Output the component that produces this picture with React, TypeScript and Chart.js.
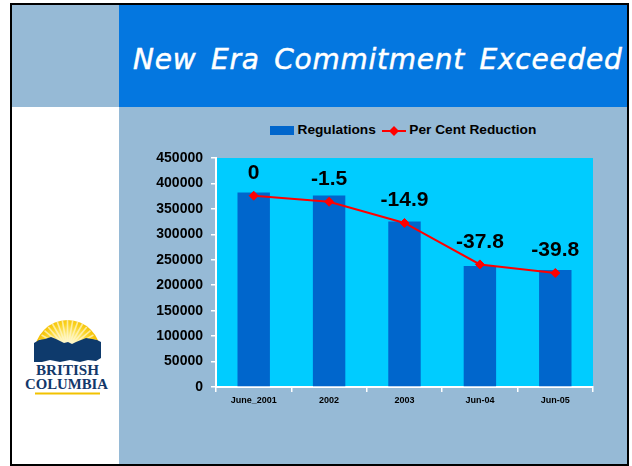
import React, { useEffect, useRef } from "react";
import { Chart, registerables } from "chart.js";

Chart.register(...registerables);

// ---- data ----
const categories = ["June_2001", "2002", "2003", "Jun-04", "Jun-05"];
const regulations = [382000, 376400, 325200, 237700, 230000];
// position of the "Per Cent Reduction" markers, read on the same scale as the bars
const reductionPoints = [375900, 364100, 322300, 240900, 224000];
const reductionLabels = ["0", "-1.5", "-14.9", "-37.8", "-39.8"];
const yTickValues = [0, 50000, 100000, 150000, 200000, 250000, 300000, 350000, 400000, 450000];

// ---- style ----
const FONT = '"Liberation Sans", Arial, Helvetica, sans-serif';
const PALE = "#96BAD6";
const TITLE_BLUE = "#0477E0";
const PLOT_BG = "#00CCFF";
const BAR = "#0066CC";
const LINE = "#FF0000";

const plotBgPlugin = {
  id: "plotBg",
  beforeDraw(chart: any) {
    const { ctx, chartArea } = chart;
    if (!chartArea) return;
    ctx.save();
    ctx.fillStyle = PLOT_BG;
    ctx.fillRect(chartArea.left, chartArea.top, chartArea.right - chartArea.left, chartArea.bottom - chartArea.top);
    ctx.restore();
  },
};

const pctLabelPlugin = {
  id: "pctLabels",
  afterDatasetsDraw(chart: any) {
    const meta = chart.getDatasetMeta(1);
    const ctx = chart.ctx;
    ctx.save();
    ctx.font = `bold 21px ${FONT}`;
    ctx.fillStyle = "#000000";
    ctx.textAlign = "center";
    ctx.textBaseline = "alphabetic";
    meta.data.forEach((pt: any, i: number) => {
      ctx.fillText(reductionLabels[i], pt.x, pt.y - 16.7);
    });
    ctx.restore();
  },
};

function ChartCanvas() {
  const ref = useRef<HTMLCanvasElement | null>(null);
  useEffect(() => {
    if (!ref.current) return;
    const chart = new Chart(ref.current, {
      type: "bar",
      data: {
        labels: categories,
        datasets: [
          {
            type: "bar",
            label: "Regulations",
            data: regulations,
            backgroundColor: BAR,
            borderWidth: 0,
            categoryPercentage: 1,
            barPercentage: 0.43,
            yAxisID: "y",
            order: 2,
          },
          {
            type: "line",
            label: "Per Cent Reduction",
            data: reductionPoints,
            borderColor: LINE,
            backgroundColor: LINE,
            borderWidth: 2,
            pointStyle: "rectRot",
            pointRadius: 4.5,
            pointBorderWidth: 1,
            pointBackgroundColor: LINE,
            pointBorderColor: LINE,
            tension: 0,
            fill: false,
            yAxisID: "y2",
            order: 1,
          },
        ],
      },
      options: {
        animation: false,
        responsive: false,
        devicePixelRatio: 1,
        layout: { padding: { left: 0, right: 34, top: 51, bottom: 47 } },
        plugins: {
          legend: { display: false },
          tooltip: { enabled: false },
          title: { display: false },
        },
        scales: {
          x: {
            offset: true,
            grid: {
              display: true,
              offset: true,
              drawOnChartArea: false,
              drawTicks: true,
              tickLength: 5,
              color: "#FFFFFF",
              lineWidth: 1.5,
            },
            border: { display: true, color: "#FFFFFF", width: 2 },
            ticks: {
              color: "#000000",
              font: { family: FONT, size: 9, weight: "bold" },
              padding: 3,
              maxRotation: 0,
              autoSkip: false,
            },
            afterFit: (s: any) => {
              s.height = 30;
            },
          },
          y: {
            min: 0,
            max: 450000,
            afterBuildTicks: (s: any) => {
              s.ticks = yTickValues.map((v) => ({ value: v }));
            },
            grid: {
              drawOnChartArea: false,
              drawTicks: true,
              tickLength: 5,
              color: "#FFFFFF",
              lineWidth: 1.5,
            },
            border: { display: true, color: "#FFFFFF", width: 2 },
            ticks: {
              color: "#000000",
              font: { family: FONT, size: 14, weight: "bold" },
              padding: 8,
              callback: (v: any) => String(v),
            },
            afterFit: (s: any) => {
              s.width = 97;
            },
          },
          y2: { display: false, min: 0, max: 450000 },
        },
      },
      plugins: [plotBgPlugin, pctLabelPlugin],
    } as any);
    return () => chart.destroy();
  }, []);
  return <canvas ref={ref} width={508} height={357} style={{ display: "block", width: 508, height: 357 }} />;
}

function Logo() {
  // coordinates relative to (12, 300)
  const rays = [];
  for (let a = 200; a <= 340; a += 10) {
    const r = (a * Math.PI) / 180;
    rays.push(
      <line
        key={a}
        x1={55.5 + Math.cos(r) * 8}
        y1={50 + Math.sin(r) * 8}
        x2={55.5 + Math.cos(r) * 30}
        y2={50 + Math.sin(r) * 30}
        stroke="#FFF6C8"
        strokeWidth={1.6}
        opacity={0.75}
      />
    );
  }
  return (
    <svg
      width={107}
      height={110}
      viewBox="0 0 107 110"
      style={{ position: "absolute", left: 12, top: 300 }}
    >
      <defs>
        <radialGradient id="sunG" cx="55.5" cy="48" r="32" gradientUnits="userSpaceOnUse">
          <stop offset="0" stopColor="#FFFFFF" />
          <stop offset="0.35" stopColor="#FFF2A0" />
          <stop offset="0.75" stopColor="#FAD21E" />
          <stop offset="1" stopColor="#F4BC00" />
        </radialGradient>
        <clipPath id="sunClip">
          <rect x="0" y="0" width="107" height="45" />
        </clipPath>
      </defs>
      <g clipPath="url(#sunClip)">
        <circle cx="55.5" cy="53" r="33" fill="url(#sunG)" />
        {rays}
      </g>
      <path
        d="M22,62 L22,43 L27,40 L33,39 L39,37 L44,39 L48,41 L52,43 L56,42 L60,44 L64,42 L69,40 L74,38 L80,39 L85,40 L89,42 L89,58 L84,61 L76,60 L68,62 L58,60 L48,62 L38,60 L30,62 Z"
        fill="#0E3A6C"
      />
      <text
        x="55.5"
        y="75"
        textAnchor="middle"
        textLength="63"
        lengthAdjust="spacingAndGlyphs"
        fontFamily='"Liberation Serif", "DejaVu Serif", serif'
        fontWeight="bold"
        fontSize="14"
        fill="#13386A"
      >
        BRITISH
      </text>
      <text
        x="54.5"
        y="89"
        textAnchor="middle"
        textLength="83"
        lengthAdjust="spacingAndGlyphs"
        fontFamily='"Liberation Serif", "DejaVu Serif", serif'
        fontWeight="bold"
        fontSize="15"
        fill="#13386A"
      >
        COLUMBIA
      </text>
      <line x1="23" y1="93.5" x2="88" y2="93.5" stroke="#F2C200" strokeWidth="2" />
    </svg>
  );
}

function Legend() {
  const textStyle: React.CSSProperties = {
    position: "absolute",
    top: 122,
    font: `bold 13.7px ${FONT}`,
    lineHeight: "16px",
    color: "#000",
    whiteSpace: "nowrap",
  };
  return (
    <>
      <div style={{ position: "absolute", left: 270, top: 126, width: 24, height: 9, background: BAR }} />
      <span style={{ ...textStyle, left: 297.5 }}>Regulations</span>
      <svg width={24} height={12} style={{ position: "absolute", left: 381.5, top: 124.5 }}>
        <line x1="0" y1="6" x2="24" y2="6" stroke={LINE} strokeWidth="2" />
        <path d="M12,1 L17,6 L12,11 L7,6 Z" fill={LINE} />
      </svg>
      <span style={{ ...textStyle, left: 409.3 }}>Per Cent Reduction</span>
    </>
  );
}

export default function App() {
  return (
    <div style={{ position: "absolute", left: 0, top: 0, width: 632, height: 466, background: "#FFFFFF", overflow: "hidden" }}>
      {/* frame */}
      <div
        style={{
          position: "absolute",
          left: 10,
          top: 3,
          width: 619,
          height: 463,
          border: "2px solid #000",
          boxSizing: "border-box",
          background: "#FFFFFF",
        }}
      />
      {/* top-left pale block */}
      <div style={{ position: "absolute", left: 12, top: 5, width: 107, height: 102, background: PALE }} />
      {/* title band */}
      <div style={{ position: "absolute", left: 119, top: 5, width: 508, height: 102, background: TITLE_BLUE }} />
      {/* right pale region */}
      <div style={{ position: "absolute", left: 119, top: 107, width: 508, height: 357, background: PALE }} />
      {/* title */}
      <div
        style={{
          position: "absolute",
          left: 133,
          top: 43,
          font: 'italic 28px "DejaVu Sans", Verdana, sans-serif',
          letterSpacing: "0.75px",
          wordSpacing: "5px",
          lineHeight: "34px",
          color: "#FFFFFF",
          WebkitTextStroke: "0.5px #FFFFFF",
          whiteSpace: "nowrap",
        }}
      >
        New Era Commitment Exceeded
      </div>
      <Logo />
      <Legend />
      <div style={{ position: "absolute", left: 119, top: 107, width: 508, height: 357 }}>
        <ChartCanvas />
      </div>
    </div>
  );
}
